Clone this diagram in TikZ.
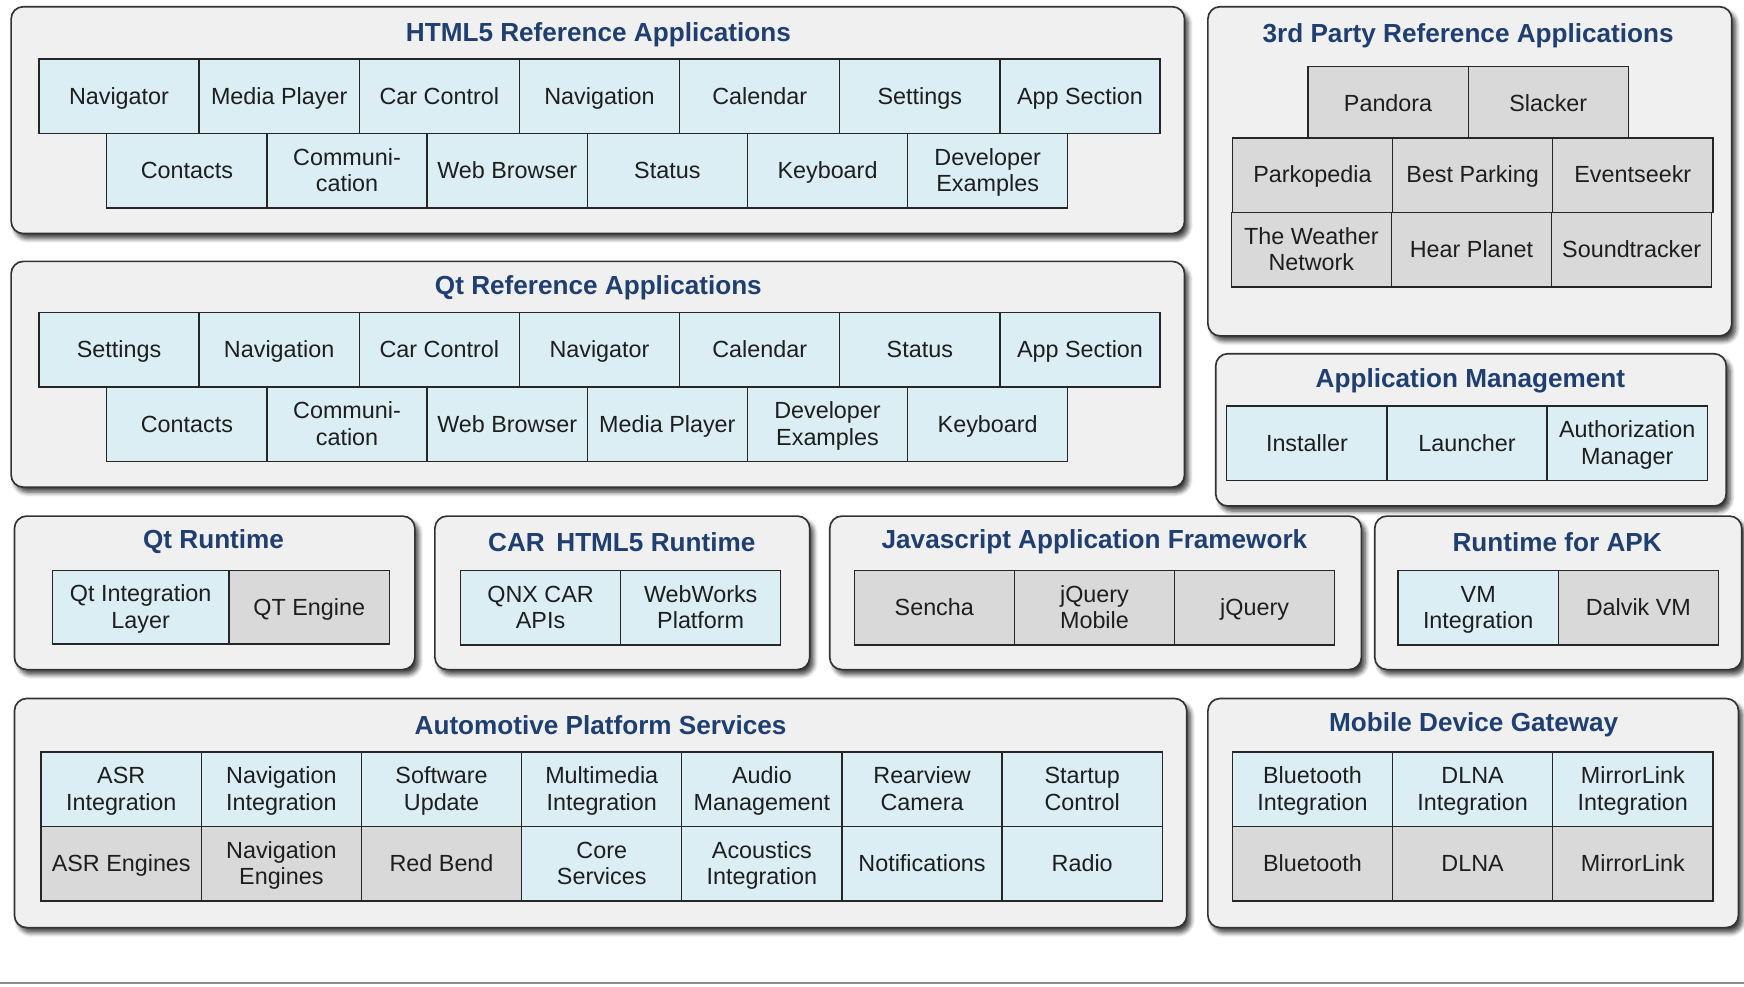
\documentclass[tikz,border=0pt]{standalone}
\usepackage{fontspec}
\setmainfont{Liberation Sans}
\usetikzlibrary{
    positioning, shadows, shadows.blur
}
\definecolor{panelGrey}{HTML}{F0F0F0}
\definecolor{panelLine}{HTML}{333333}
\definecolor{cellBlue}{HTML}{DAEEF3}
\definecolor{cellGrey}{HTML}{D9D9D9}
\definecolor{titleBlue}{HTML}{1F3F73}
\definecolor{textDark}{HTML}{1E1E1E}
\tikzset{
    panel/.style={draw=panelLine, line width=1.5pt, fill=panelGrey, rounded corners=11pt,
        blur shadow={shadow xshift=3.5pt, shadow yshift=-4.5pt, shadow blur radius=4pt, shadow blur steps=6, shadow opacity=75}},
    paneltitle/.style={font=\bfseries\fontsize{23.5}{26}\selectfont, text=titleBlue, inner sep=0pt},
    cell/.style={draw=black!85, line width=1.2pt, fill=cellBlue, minimum width=144pt, minimum height=67pt,
        inner sep=1pt, outer sep=0pt, align=center, text=textDark, font=\fontsize{21}{24}\selectfont},
    greycell/.style={cell, fill=cellGrey}
}
% struts so that every cell text sits at the same height
\newcommand{\TopStrut}{\vrule height 19pt depth 0pt width 0pt}
\newcommand{\BotStrut}{\vrule height 0pt depth 5pt width 0pt}
% one row of cells, left to right: x, y (top left), name prefix, list of style/text
\newcommand{\CellRow}[4]{
    \foreach \kind/\txt [count=\i] in {#4} {
        \node[\kind, anchor=north west] (#3-\i) at ({#1+144*(\i-1)}, #2) {\TopStrut\txt\BotStrut};
    }
}

\begin{document}
\begin{tikzpicture}[x=1pt, y=-1pt]
    \useasboundingbox (0,0) rectangle (1568,887);

    % HTML5 Reference Applications
    \draw[panel] (10,6) rectangle (1065,210);
    \node[paneltitle] (html-title) at (538,31) {HTML5 Reference Applications};
    \CellRow{35}{53}{html-a}{cell/Navigator, cell/Media Player, cell/Car Control, cell/Navigation, cell/Calendar, cell/Settings, cell/App Section}
    \CellRow{96}{120}{html-b}{cell/Contacts, cell/Communi-\\cation, cell/Web Browser, cell/Status, cell/Keyboard, cell/Developer\\Examples}

    % Qt Reference Applications
    \draw[panel] (10,235) rectangle (1065,438);
    \node[paneltitle] (qt-title) at (538,259) {Qt Reference Applications};
    \CellRow{35}{281}{qt-a}{cell/Settings, cell/Navigation, cell/Car Control, cell/Navigator, cell/Calendar, cell/Status, cell/App Section}
    \CellRow{96}{348}{qt-b}{cell/Contacts, cell/Communi-\\cation, cell/Web Browser, cell/Media Player, cell/Developer\\Examples, cell/Keyboard}

    % 3rd Party (all grey)
    \draw[panel] (1086,6) rectangle (1557,302);
    \node[paneltitle] (party-title) at (1320,32) {3rd Party Reference Applications};
    \CellRow{1176}{60}{party-a}{greycell/Pandora, greycell/Slacker}
    \CellRow{1108}{124}{party-b}{greycell/Parkopedia, greycell/Best Parking, greycell/Eventseekr}
    \CellRow{1107}{191}{party-c}{greycell/The Weather\\Network, greycell/Hear Planet, greycell/Soundtracker}

    % Application Management
    \draw[panel] (1093,318) rectangle (1552,455);
    \node[paneltitle] (mgmt-title) at (1322,342) {Application Management};
    \CellRow{1103}{365}{mgmt}{cell/Installer, cell/Launcher, cell/Authorization\\Manager}

    % Runtimes
    \draw[panel] (13,464) rectangle (373,602);
    \node[paneltitle] (qtrt-title) at (192,487) {Qt Runtime};
    \node[cell, minimum width=159pt, minimum height=66pt, anchor=north west] (qtrt-1) at (47,513) {\TopStrut Qt Integration\\Layer\BotStrut};
    \node[greycell, minimum height=66pt, anchor=north west] (qtrt-2) at (206,513) {\TopStrut QT Engine\BotStrut};

    \draw[panel] (391,464) rectangle (728,602);
    \node[paneltitle] (carrt-title) at (559,487) {CAR\, HTML5 Runtime};
    \CellRow{414}{513}{carrt}{cell/QNX CAR\\APIs, cell/WebWorks\\Platform}

    \draw[panel] (746,464) rectangle (1224,602);
    \node[paneltitle] (js-title) at (984,487) {Javascript Application Framework};
    \CellRow{768}{513}{js}{greycell/Sencha, greycell/jQuery\\Mobile, greycell/jQuery}

    \draw[panel] (1236,464) rectangle (1566,602);
    \node[paneltitle] (apk-title) at (1400,487) {Runtime for APK};
    \CellRow{1257}{513}{apk}{cell/VM\\Integration, greycell/Dalvik VM}

    % Automotive Platform Services
    \draw[panel] (13,628) rectangle (1067,834);
    \node[paneltitle] (aps-title) at (540,652) {Automotive Platform Services};
    \CellRow{37}{676}{aps-a}{cell/ASR\\Integration, cell/Navigation\\Integration, cell/Software\\Update, cell/Multimedia\\Integration, cell/Audio\\Management, cell/Rearview\\Camera, cell/Startup\\Control}
    \CellRow{37}{743}{aps-b}{greycell/ASR Engines, greycell/Navigation\\Engines, greycell/Red Bend, cell/Core\\Services, cell/Acoustics\\Integration, cell/Notifications, cell/Radio}

    % Mobile Device Gateway
    \draw[panel] (1086,628) rectangle (1563,834);
    \node[paneltitle] (mdg-title) at (1325,652) {Mobile Device Gateway};
    \CellRow{1108}{676}{mdg-a}{cell/Bluetooth\\Integration, cell/DLNA\\Integration, cell/MirrorLink\\Integration}
    \CellRow{1108}{743}{mdg-b}{greycell/Bluetooth, greycell/DLNA, greycell/MirrorLink}

    % top edge of the layer below
    \draw[black!45, line width=1.5pt] (0,884) -- (1568,884);
\end{tikzpicture}
\end{document}
